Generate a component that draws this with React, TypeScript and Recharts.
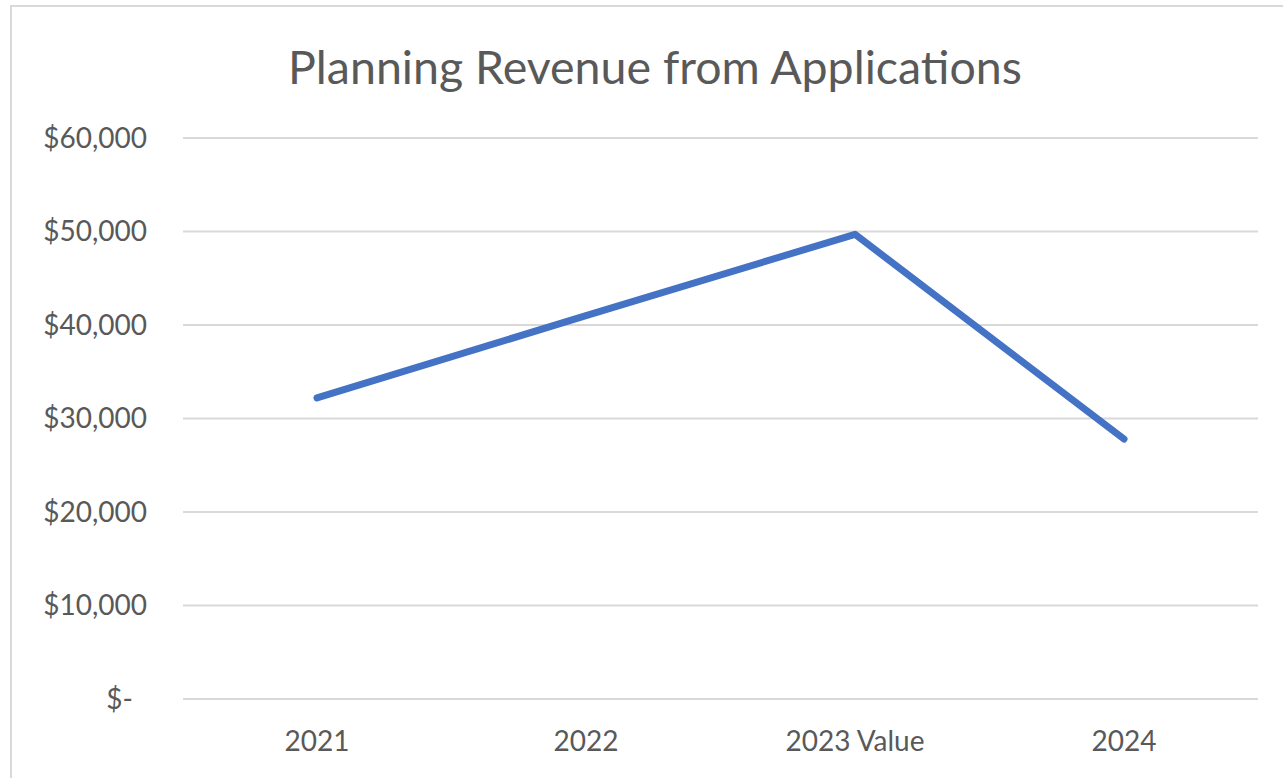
import React from 'react';
import { LineChart, Line, XAxis, YAxis, CartesianGrid } from 'recharts';

const categories = ['2021', '2022', '2023 Value', '2024'];
const revenue = [32200, 41000, 49700, 27800];
const yTicks = [0, 10000, 20000, 30000, 40000, 50000, 60000];

const data = categories.map((c, i) => ({ year: c, revenue: revenue[i] }));

const FONT = 'Lato, "Open Sans", sans-serif';
const TEXT = '#595959';

function formatMoney(v: number) {
  if (v === 0) return '$-';
  return '$' + v.toLocaleString('en-US');
}

const YTick = ({ x, y, payload }: any) => {
  const v = payload.value as number;
  return (
    <text
      x={x - (v === 0 ? 14 : 0)}
      y={y}
      dy="0.355em"
      textAnchor="end"
      fill={TEXT}
      fontSize={28}
      fontFamily={FONT}
    >
      {formatMoney(v)}
    </text>
  );
};

export default function App() {
  return (
    <div
      style={{
        position: 'absolute',
        left: 0,
        top: 0,
        width: 1283,
        height: 778,
        overflow: 'hidden',
        background: '#fff',
      }}
    >
      <div
        style={{
          position: 'absolute',
          left: 10,
          top: 5,
          width: 1320,
          height: 820,
          border: '2px solid #d9d9d9',
          boxSizing: 'border-box',
        }}
      />
      <div
        style={{
          position: 'absolute',
          left: 255,
          width: 800,
          top: 38,
          textAlign: 'center',
          fontFamily: FONT,
          fontSize: 46.5,
          color: TEXT,
          lineHeight: '56px',
        }}
      >
        Planning Revenue from Applications
      </div>
      <div style={{ position: 'absolute', left: 0, top: 0 }}>
        <LineChart
          width={1283}
          height={778}
          data={data}
          margin={{ top: 138, right: 25, bottom: 49, left: 13 }}
        >
          <CartesianGrid vertical={false} stroke="#d9d9d9" strokeWidth={2} />
          <XAxis
            dataKey="year"
            height={30}
            axisLine={false}
            tickLine={false}
            tickSize={0}
            tickMargin={32}
            padding={{ left: 134, right: 134 }}
            tick={{ fill: TEXT, fontSize: 28, fontFamily: FONT }}
          />
          <YAxis
            width={170}
            domain={[0, 60000]}
            ticks={yTicks}
            axisLine={false}
            tickLine={false}
            tickSize={0}
            tickMargin={36}
            tick={<YTick />}
          />
          <Line
            type="linear"
            dataKey="revenue"
            stroke="#4472c4"
            strokeWidth={7}
            strokeLinecap="round"
            strokeLinejoin="round"
            dot={false}
            activeDot={false}
            isAnimationActive={false}
          />
        </LineChart>
      </div>
    </div>
  );
}
